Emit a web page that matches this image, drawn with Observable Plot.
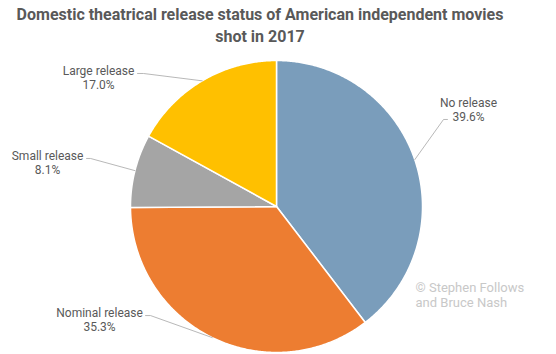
<!DOCTYPE html>
<html>
<head>
<meta charset="utf-8">
<script src="https://cdn.jsdelivr.net/npm/d3@7"></script>
<script src="https://cdn.jsdelivr.net/npm/@observablehq/plot@0.6"></script>
<style>
  html, body { margin: 0; padding: 0; background: #fff; }
  #wrap { width: 556px; height: 354px; overflow: hidden; font-family: Roboto, "Noto Sans", sans-serif; }
  #title { width: 520px; height: 50px; box-sizing: border-box; padding-top: 4px; text-align: center; font-weight: bold; font-size: 16px; line-height: 22px; color: #595959; }
  svg { display: block; }
</style>
</head>
<body>
<div id="wrap">
  <div id="title">Domestic theatrical release status of American independent movies<br>shot in 2017</div>
  <div id="chart"></div>
</div>
<script>
// Data
const categories = ["No release", "Nominal release", "Small release", "Large release"];
const shares = [39.6, 35.3, 8.1, 17.0];
const sliceColors = ["#7a9dbb", "#ed7d31", "#a5a5a5", "#ffc000"];

// Label layout (unit coordinates relative to pie centre, radius = 1)
const labelText = [[1.315, 0.664], [-1.212, -0.777], [-1.568, 0.301], [-1.219, 0.884]];
const labelLeaderStart = [[1.171, 0.596], [-0.897, -0.747], [-1.301, 0.329], [-0.952, 0.911]];
const labelLeaderElbow = [[1.144, 0.596], [-0.863, -0.747], [-1.274, 0.329], [-0.911, 0.911]];

const W = 556, H = 304, CX = 276, CY = 156, R = 146;

const rows = categories.map((c, i) => ({category: c, share: shares[i], i}));
const arcs = d3.pie().sort(null).value(d => d.share)(rows);

// Slice polygons built from pie angles
const slicePts = [];
for (const a of arcs) {
  const name = a.data.category;
  slicePts.push({category: name, x: 0, y: 0});
  const n = Math.max(2, Math.ceil((a.endAngle - a.startAngle) / (Math.PI / 360)));
  for (let k = 0; k <= n; k++) {
    const t = a.startAngle + (a.endAngle - a.startAngle) * k / n;
    slicePts.push({category: name, x: Math.sin(t), y: Math.cos(t)});
  }
}

// Leader lines
const leaderPts = [];
const labels = [];
arcs.forEach((a) => {
  const i = a.data.i;
  const mid = (a.startAngle + a.endAngle) / 2;
  const name = a.data.category;
  leaderPts.push({category: name, x: labelLeaderStart[i][0], y: labelLeaderStart[i][1]});
  leaderPts.push({category: name, x: labelLeaderElbow[i][0], y: labelLeaderElbow[i][1]});
  leaderPts.push({category: name, x: Math.sin(mid), y: Math.cos(mid)});
  labels.push({x: labelText[i][0], y: labelText[i][1], text: `${name}\n${a.data.share.toFixed(1)}%`});
});

const chart = Plot.plot({
  width: W,
  height: H,
  margin: 0,
  x: {domain: [-1, 1], range: [CX - R, CX + R], axis: null},
  y: {domain: [-1, 1], range: [CY + R, CY - R], axis: null},
  color: {domain: categories, range: sliceColors},
  style: {fontFamily: "Roboto, 'Noto Sans', sans-serif", background: "#fff"},
  marks: [
    Plot.line(slicePts, {x: "x", y: "y", z: "category", fill: "category", stroke: "#fff", strokeWidth: 1.5, curve: "linear-closed"}),
    Plot.line(leaderPts, {x: "x", y: "y", z: "category", stroke: "#a6a6a6", strokeWidth: 0.8}),
    Plot.text(labels, {x: "x", y: "y", text: "text", fontSize: 12, fill: "#595959", lineHeight: 1.17, textAnchor: "middle"}),
    Plot.text(["© Stephen Follows\nand Bruce Nash"], {x: [0.952], y: [-0.606], text: d => d, fontSize: 13, fill: "#c8c8c8", textAnchor: "start", lineHeight: 1.17})
  ]
});
document.getElementById("chart").appendChild(chart);
</script>
</body>
</html>
